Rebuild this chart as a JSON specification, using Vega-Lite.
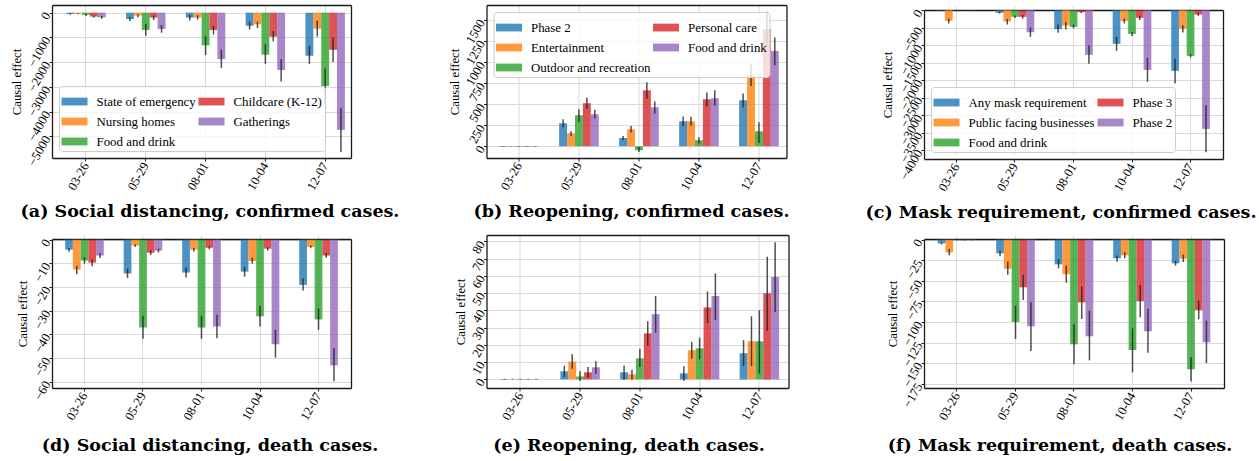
{
"$schema": "https://vega.github.io/schema/vega-lite/v6.json",
"autosize": {"type": "none"},
"padding": {"left": 52, "top": 5, "right": 1208, "bottom": 456},
"config": {
  "font": "Liberation Serif",
  "view": {"stroke": null},
  "axis": {"labelFont": "Liberation Serif", "labelFontSize": 12.7, "labelColor": "#000", "titleFont": "Liberation Serif", "titleFontSize": 12.7, "titleFontWeight": "normal", "titleColor": "#000", "gridColor": "#dadada", "gridWidth": 1, "domain": true, "domainColor": "#1a1a1a", "domainWidth": 1.3, "tickColor": "#222", "tickSize": 3, "labelPadding": 2, "labelOverlap": false, "labelFlush": false, "labelBound": false},
  "axisX": {"labelAngle": -60, "labelAlign": "right", "labelBaseline": "middle", "bandPosition": 0.5, "grid": true, "title": null},
  "axisY": {"labelAngle": -60, "labelAlign": "right", "labelBaseline": "middle", "format": "d", "titleAngle": -90, "titleAlign": "center", "titleBaseline": "middle"},
  "legend": {"labelFont": "Liberation Serif", "labelFontSize": 12.9, "labelColor": "#000", "symbolType": "M-1,-0.3H1V0.3H-1Z", "symbolSize": 676, "symbolStrokeWidth": 0, "symbolOpacity": 0.8, "columns": 2, "columnPadding": 2, "rowPadding": 0, "labelOffset": 9, "padding": 2.5, "fillColor": "rgba(255,255,255,0.8)", "strokeColor": "#cccccc", "cornerRadius": 3, "offset": 7, "title": null, "labelLimit": 300},
  "title": {"font": "DejaVu Serif", "fontSize": 17.5, "fontWeight": "bold", "color": "#000", "orient": "bottom", "frame": "group", "anchor": "middle", "offset": 11}
},
"datasets": {
  "a": [
    {"date": "03-26", "cat": "State of emergency", "v": -50, "lo": -20, "hi": -80},
    {"date": "03-26", "cat": "Nursing homes", "v": -40, "lo": -20, "hi": -60},
    {"date": "03-26", "cat": "Food and drink", "v": -90, "lo": -40, "hi": -130},
    {"date": "03-26", "cat": "Childcare (K-12)", "v": -160, "lo": -120, "hi": -200},
    {"date": "03-26", "cat": "Gatherings", "v": -190, "lo": -130, "hi": -250},
    {"date": "05-29", "cat": "State of emergency", "v": -257, "lo": -170, "hi": -340},
    {"date": "05-29", "cat": "Nursing homes", "v": -120, "lo": -60, "hi": -190},
    {"date": "05-29", "cat": "Food and drink", "v": -700, "lo": -460, "hi": -930},
    {"date": "05-29", "cat": "Childcare (K-12)", "v": -200, "lo": -120, "hi": -300},
    {"date": "05-29", "cat": "Gatherings", "v": -660, "lo": -500, "hi": -810},
    {"date": "08-01", "cat": "State of emergency", "v": -200, "lo": -90, "hi": -320},
    {"date": "08-01", "cat": "Nursing homes", "v": -200, "lo": -100, "hi": -280},
    {"date": "08-01", "cat": "Food and drink", "v": -1320, "lo": -970, "hi": -1720},
    {"date": "08-01", "cat": "Childcare (K-12)", "v": -700, "lo": -540, "hi": -880},
    {"date": "08-01", "cat": "Gatherings", "v": -1880, "lo": -1490, "hi": -2240},
    {"date": "10-04", "cat": "State of emergency", "v": -530, "lo": -360, "hi": -680},
    {"date": "10-04", "cat": "Nursing homes", "v": -470, "lo": -360, "hi": -620},
    {"date": "10-04", "cat": "Food and drink", "v": -1700, "lo": -1280, "hi": -2070},
    {"date": "10-04", "cat": "Childcare (K-12)", "v": -970, "lo": -740, "hi": -1160},
    {"date": "10-04", "cat": "Gatherings", "v": -2320, "lo": -1880, "hi": -2780},
    {"date": "12-07", "cat": "State of emergency", "v": -1740, "lo": -1350, "hi": -2070},
    {"date": "12-07", "cat": "Nursing homes", "v": -650, "lo": -320, "hi": -970},
    {"date": "12-07", "cat": "Food and drink", "v": -2970, "lo": -2260, "hi": -3680},
    {"date": "12-07", "cat": "Childcare (K-12)", "v": -1500, "lo": -990, "hi": -2000},
    {"date": "12-07", "cat": "Gatherings", "v": -4740, "lo": -3850, "hi": -5640}
  ],
  "b": [
    {"date": "03-26", "cat": "Phase 2", "v": -5, "lo": -2, "hi": -8},
    {"date": "03-26", "cat": "Entertainment", "v": -4, "lo": -1, "hi": -7},
    {"date": "03-26", "cat": "Outdoor and recreation", "v": -5, "lo": -2, "hi": -8},
    {"date": "03-26", "cat": "Personal care", "v": -5, "lo": -2, "hi": -8},
    {"date": "03-26", "cat": "Food and drink", "v": -4, "lo": -1, "hi": -7},
    {"date": "05-29", "cat": "Phase 2", "v": 274, "lo": 226, "hi": 321},
    {"date": "05-29", "cat": "Entertainment", "v": 155, "lo": 123, "hi": 178},
    {"date": "05-29", "cat": "Outdoor and recreation", "v": 369, "lo": 290, "hi": 440},
    {"date": "05-29", "cat": "Personal care", "v": 512, "lo": 444, "hi": 579},
    {"date": "05-29", "cat": "Food and drink", "v": 381, "lo": 329, "hi": 433},
    {"date": "08-01", "cat": "Phase 2", "v": 99, "lo": 71, "hi": 123},
    {"date": "08-01", "cat": "Entertainment", "v": 202, "lo": 163, "hi": 242},
    {"date": "08-01", "cat": "Outdoor and recreation", "v": -48, "lo": -8, "hi": -67},
    {"date": "08-01", "cat": "Personal care", "v": 667, "lo": 563, "hi": 762},
    {"date": "08-01", "cat": "Food and drink", "v": 464, "lo": 389, "hi": 536},
    {"date": "10-04", "cat": "Phase 2", "v": 298, "lo": 242, "hi": 353},
    {"date": "10-04", "cat": "Entertainment", "v": 298, "lo": 245, "hi": 350},
    {"date": "10-04", "cat": "Outdoor and recreation", "v": 71, "lo": 32, "hi": 107},
    {"date": "10-04", "cat": "Personal care", "v": 560, "lo": 472, "hi": 639},
    {"date": "10-04", "cat": "Food and drink", "v": 571, "lo": 484, "hi": 667},
    {"date": "12-07", "cat": "Phase 2", "v": 548, "lo": 460, "hi": 627},
    {"date": "12-07", "cat": "Entertainment", "v": 845, "lo": 718, "hi": 976},
    {"date": "12-07", "cat": "Outdoor and recreation", "v": 179, "lo": 40, "hi": 286},
    {"date": "12-07", "cat": "Personal care", "v": 1393, "lo": 1186, "hi": 1600},
    {"date": "12-07", "cat": "Food and drink", "v": 1131, "lo": 964, "hi": 1294}
  ],
  "c": [
    {"date": "03-26", "cat": "Any mask requirement", "v": -10, "lo": -5, "hi": -15},
    {"date": "03-26", "cat": "Public facing businesses", "v": -305, "lo": -240, "hi": -380},
    {"date": "03-26", "cat": "Food and drink", "v": -5, "lo": -2, "hi": -8},
    {"date": "03-26", "cat": "Phase 3", "v": -5, "lo": -2, "hi": -8},
    {"date": "03-26", "cat": "Phase 2", "v": -5, "lo": -2, "hi": -8},
    {"date": "05-29", "cat": "Any mask requirement", "v": -76, "lo": -50, "hi": -100},
    {"date": "05-29", "cat": "Public facing businesses", "v": -324, "lo": -250, "hi": -410},
    {"date": "05-29", "cat": "Food and drink", "v": -190, "lo": -150, "hi": -220},
    {"date": "05-29", "cat": "Phase 3", "v": -190, "lo": -140, "hi": -240},
    {"date": "05-29", "cat": "Phase 2", "v": -629, "lo": -495, "hi": -762},
    {"date": "08-01", "cat": "Any mask requirement", "v": -543, "lo": -410, "hi": -648},
    {"date": "08-01", "cat": "Public facing businesses", "v": -438, "lo": -333, "hi": -552},
    {"date": "08-01", "cat": "Food and drink", "v": -476, "lo": -410, "hi": -514},
    {"date": "08-01", "cat": "Phase 3", "v": -57, "lo": -30, "hi": -80},
    {"date": "08-01", "cat": "Phase 2", "v": -1276, "lo": -1000, "hi": -1533},
    {"date": "10-04", "cat": "Any mask requirement", "v": -962, "lo": -762, "hi": -1162},
    {"date": "10-04", "cat": "Public facing businesses", "v": -314, "lo": -240, "hi": -380},
    {"date": "10-04", "cat": "Food and drink", "v": -676, "lo": -620, "hi": -740},
    {"date": "10-04", "cat": "Phase 3", "v": -219, "lo": -160, "hi": -280},
    {"date": "10-04", "cat": "Phase 2", "v": -1705, "lo": -1362, "hi": -2048},
    {"date": "12-07", "cat": "Any mask requirement", "v": -1733, "lo": -1390, "hi": -2095},
    {"date": "12-07", "cat": "Public facing businesses", "v": -533, "lo": -430, "hi": -640},
    {"date": "12-07", "cat": "Food and drink", "v": -1305, "lo": -1250, "hi": -1350},
    {"date": "12-07", "cat": "Phase 3", "v": -124, "lo": -80, "hi": -160},
    {"date": "12-07", "cat": "Phase 2", "v": -3390, "lo": -2714, "hi": -4057}
  ],
  "d": [
    {"date": "03-26", "cat": "State of emergency", "v": -4.2, "lo": -3.5, "hi": -5.1},
    {"date": "03-26", "cat": "Nursing homes", "v": -12.6, "lo": -11.1, "hi": -14.6},
    {"date": "03-26", "cat": "Food and drink", "v": -8.8, "lo": -7.4, "hi": -10.1},
    {"date": "03-26", "cat": "Childcare (K-12)", "v": -9.7, "lo": -8.3, "hi": -11.2},
    {"date": "03-26", "cat": "Gatherings", "v": -6.7, "lo": -5.6, "hi": -7.7},
    {"date": "05-29", "cat": "State of emergency", "v": -14.3, "lo": -12.2, "hi": -16.2},
    {"date": "05-29", "cat": "Nursing homes", "v": -2.5, "lo": -2, "hi": -3},
    {"date": "05-29", "cat": "Food and drink", "v": -37.1, "lo": -32.2, "hi": -41.9},
    {"date": "05-29", "cat": "Childcare (K-12)", "v": -5.5, "lo": -4.5, "hi": -6.5},
    {"date": "05-29", "cat": "Gatherings", "v": -4.6, "lo": -3.8, "hi": -5.4},
    {"date": "08-01", "cat": "State of emergency", "v": -13.9, "lo": -11.8, "hi": -16},
    {"date": "08-01", "cat": "Nursing homes", "v": -4.2, "lo": -3.5, "hi": -5},
    {"date": "08-01", "cat": "Food and drink", "v": -37.1, "lo": -32.2, "hi": -41.9},
    {"date": "08-01", "cat": "Childcare (K-12)", "v": -3.4, "lo": -2.8, "hi": -4},
    {"date": "08-01", "cat": "Gatherings", "v": -36.7, "lo": -31.7, "hi": -41.7},
    {"date": "10-04", "cat": "State of emergency", "v": -13.5, "lo": -11.5, "hi": -15.6},
    {"date": "10-04", "cat": "Nursing homes", "v": -9, "lo": -7.6, "hi": -10.1},
    {"date": "10-04", "cat": "Food and drink", "v": -32.4, "lo": -28, "hi": -36.7},
    {"date": "10-04", "cat": "Childcare (K-12)", "v": -3.8, "lo": -3.2, "hi": -4.6},
    {"date": "10-04", "cat": "Gatherings", "v": -44.2, "lo": -38.1, "hi": -49.9},
    {"date": "12-07", "cat": "State of emergency", "v": -19.1, "lo": -16.3, "hi": -21.5},
    {"date": "12-07", "cat": "Nursing homes", "v": -3.1, "lo": -2.4, "hi": -3.4},
    {"date": "12-07", "cat": "Food and drink", "v": -33.7, "lo": -29.1, "hi": -38.1},
    {"date": "12-07", "cat": "Childcare (K-12)", "v": -6.7, "lo": -5.6, "hi": -7.6},
    {"date": "12-07", "cat": "Gatherings", "v": -53.1, "lo": -45.8, "hi": -59.8}
  ],
  "e": [
    {"date": "03-26", "cat": "Phase 2", "v": 0.2, "lo": 0, "hi": 0.4},
    {"date": "03-26", "cat": "Entertainment", "v": 0.2, "lo": 0, "hi": 0.4},
    {"date": "03-26", "cat": "Outdoor and recreation", "v": 0.2, "lo": 0, "hi": 0.4},
    {"date": "03-26", "cat": "Personal care", "v": 0.2, "lo": 0, "hi": 0.4},
    {"date": "03-26", "cat": "Food and drink", "v": 0.2, "lo": 0, "hi": 0.4},
    {"date": "05-29", "cat": "Phase 2", "v": 4.7, "lo": 1.4, "hi": 7.9},
    {"date": "05-29", "cat": "Entertainment", "v": 10.3, "lo": 6.2, "hi": 14.5},
    {"date": "05-29", "cat": "Outdoor and recreation", "v": 1.7, "lo": -1, "hi": 4.7},
    {"date": "05-29", "cat": "Personal care", "v": 4.1, "lo": 1, "hi": 7.2},
    {"date": "05-29", "cat": "Food and drink", "v": 7.0, "lo": 3.3, "hi": 10.5},
    {"date": "08-01", "cat": "Phase 2", "v": 4.1, "lo": -0.2, "hi": 8.1},
    {"date": "08-01", "cat": "Entertainment", "v": 2.9, "lo": -0.2, "hi": 5.6},
    {"date": "08-01", "cat": "Outdoor and recreation", "v": 12.2, "lo": 7.2, "hi": 17.8},
    {"date": "08-01", "cat": "Personal care", "v": 26.7, "lo": 19.4, "hi": 33.7},
    {"date": "08-01", "cat": "Food and drink", "v": 37.8, "lo": 27.1, "hi": 48.4},
    {"date": "10-04", "cat": "Phase 2", "v": 3.5, "lo": -1, "hi": 7.6},
    {"date": "10-04", "cat": "Entertainment", "v": 16.9, "lo": 12, "hi": 21.7},
    {"date": "10-04", "cat": "Outdoor and recreation", "v": 18, "lo": 11.6, "hi": 24.2},
    {"date": "10-04", "cat": "Personal care", "v": 41.7, "lo": 32.6, "hi": 51},
    {"date": "10-04", "cat": "Food and drink", "v": 48.3, "lo": 34.5, "hi": 61.4},
    {"date": "12-07", "cat": "Phase 2", "v": 15.1, "lo": 7.8, "hi": 22.7},
    {"date": "12-07", "cat": "Entertainment", "v": 22.1, "lo": 7.8, "hi": 36.6},
    {"date": "12-07", "cat": "Outdoor and recreation", "v": 22.1, "lo": 3.3, "hi": 40.1},
    {"date": "12-07", "cat": "Personal care", "v": 50, "lo": 28.1, "hi": 71.1},
    {"date": "12-07", "cat": "Food and drink", "v": 59.3, "lo": 39.1, "hi": 79.5}
  ],
  "f": [
    {"date": "03-26", "cat": "Any mask requirement", "v": -4.5, "lo": -3.2, "hi": -5.7},
    {"date": "03-26", "cat": "Public facing businesses", "v": -15.4, "lo": -11.3, "hi": -19},
    {"date": "03-26", "cat": "Food and drink", "v": -0.3, "lo": 0, "hi": -0.8},
    {"date": "03-26", "cat": "Phase 3", "v": -0.5, "lo": 0, "hi": -1},
    {"date": "03-26", "cat": "Phase 2", "v": -0.3, "lo": 0, "hi": -0.8},
    {"date": "05-29", "cat": "Any mask requirement", "v": -16.6, "lo": -13.4, "hi": -20.3},
    {"date": "05-29", "cat": "Public facing businesses", "v": -35.3, "lo": -26.7, "hi": -42.5},
    {"date": "05-29", "cat": "Food and drink", "v": -100, "lo": -80.2, "hi": -120.7},
    {"date": "05-29", "cat": "Phase 3", "v": -57.9, "lo": -42.5, "hi": -73.3},
    {"date": "05-29", "cat": "Phase 2", "v": -105.3, "lo": -76.2, "hi": -135.3},
    {"date": "08-01", "cat": "Any mask requirement", "v": -30, "lo": -23.5, "hi": -34.8},
    {"date": "08-01", "cat": "Public facing businesses", "v": -42.1, "lo": -31.6, "hi": -52.3},
    {"date": "08-01", "cat": "Food and drink", "v": -127.2, "lo": -102.5, "hi": -151.5},
    {"date": "08-01", "cat": "Phase 3", "v": -76.2, "lo": -56.7, "hi": -96.4},
    {"date": "08-01", "cat": "Phase 2", "v": -117.5, "lo": -86.3, "hi": -146.7},
    {"date": "10-04", "cat": "Any mask requirement", "v": -22.7, "lo": -19.4, "hi": -26.7},
    {"date": "10-04", "cat": "Public facing businesses", "v": -19, "lo": -15.4, "hi": -22.7},
    {"date": "10-04", "cat": "Food and drink", "v": -134.1, "lo": -107.8, "hi": -161.3},
    {"date": "10-04", "cat": "Phase 3", "v": -74.6, "lo": -55.1, "hi": -94.4},
    {"date": "10-04", "cat": "Phase 2", "v": -111.4, "lo": -83.9, "hi": -137.4},
    {"date": "12-07", "cat": "Any mask requirement", "v": -28.8, "lo": -25.5, "hi": -31.6},
    {"date": "12-07", "cat": "Public facing businesses", "v": -23.1, "lo": -18.2, "hi": -27.1},
    {"date": "12-07", "cat": "Food and drink", "v": -157.6, "lo": -143, "hi": -172.2},
    {"date": "12-07", "cat": "Phase 3", "v": -85.9, "lo": -74.1, "hi": -96.8},
    {"date": "12-07", "cat": "Phase 2", "v": -124.8, "lo": -98.5, "hi": -149.9}
  ]
},
"resolve": {"scale": {"color": "independent", "xOffset": "independent", "x": "independent", "y": "independent"}, "legend": {"color": "independent"}},
"bounds": "flush",
"columns": 3,
"spacing": {"row": 76, "column": 135.5},
"concat": [
 {
  "width": 299, "height": 153,
  "data": {"name": "a"},
  "title": {"text": "(a) Social distancing, confirmed cases.", "dx": 8.5},
  "resolve": {"axis": {"x": "independent", "y": "independent"}},
  "encoding": {
    "xOffset": {"field": "cat", "type": "nominal", "sort": ["State of emergency", "Nursing homes", "Food and drink", "Childcare (K-12)", "Gatherings"], "scale": {"paddingInner": 0, "paddingOuter": 0}}
  },
  "layer": [
    {"mark": {"type": "bar", "opacity": 0.8, "clip": true},
     "encoding": {
       "x": {"field": "date", "type": "nominal", "scale": {"paddingInner": 0.34, "paddingOuter": 0.17, "align": 0.7}, "axis": {"orient": "bottom"}},
       "y": {"field": "v", "type": "quantitative", "title": "Causal effect", "scale": {"domain": [-5880, 310], "nice": false, "zero": false}, "axis": {"values": [0, -1000, -2000, -3000, -4000, -5000], "titleX": -35.5}},
       "color": {"field": "cat", "type": "nominal", "scale": {"domain": ["State of emergency", "Nursing homes", "Food and drink", "Childcare (K-12)", "Gatherings"], "range": ["#1f77b4", "#ff7f0e", "#2ca02c", "#d62728", "#9467bd"]}, "legend": {"orient": "bottom-left", "labelFont": "Liberation Serif"}}
     }},
    {"mark": {"type": "rule", "color": "#222", "opacity": 0.8, "strokeWidth": 1.5, "clip": true},
     "encoding": {
       "x": {"field": "date", "type": "nominal", "axis": {"orient": "top", "labels": false, "ticks": false, "grid": false, "title": null}},
       "y": {"field": "lo", "type": "quantitative", "axis": {"orient": "right", "labels": false, "ticks": false, "grid": false, "title": null}},
       "y2": {"field": "hi"}}}
  ]
 },
 {
  "width": 300, "height": 153,
  "data": {"name": "b"},
  "title": {"text": "(b) Reopening, confirmed cases.", "dx": -5},
  "resolve": {"axis": {"x": "independent", "y": "independent"}},
  "encoding": {
    "xOffset": {"field": "cat", "type": "nominal", "sort": ["Phase 2", "Entertainment", "Outdoor and recreation", "Personal care", "Food and drink"], "scale": {"paddingInner": 0, "paddingOuter": 0}}
  },
  "layer": [
    {"mark": {"type": "bar", "opacity": 0.8, "clip": true},
     "encoding": {
       "x": {"field": "date", "type": "nominal", "scale": {"paddingInner": 0.34, "paddingOuter": 0.17, "align": 0.62}, "axis": {"orient": "bottom"}},
       "y": {"field": "v", "type": "quantitative", "title": "Causal effect", "scale": {"domain": [-139, 1679], "nice": false, "zero": false}, "axis": {"values": [0, 250, 500, 750, 1000, 1250, 1500], "titleX": -32}},
       "color": {"field": "cat", "type": "nominal", "scale": {"domain": ["Phase 2", "Entertainment", "Outdoor and recreation", "Personal care", "Food and drink"], "range": ["#1f77b4", "#ff7f0e", "#2ca02c", "#d62728", "#9467bd"]}, "legend": {"orient": "top-left", "labelFont": "Liberation Serif"}}
     }},
    {"mark": {"type": "rule", "color": "#222", "opacity": 0.8, "strokeWidth": 1.5, "clip": true},
     "encoding": {
       "x": {"field": "date", "type": "nominal", "axis": {"orient": "top", "labels": false, "ticks": false, "grid": false, "title": null}},
       "y": {"field": "lo", "type": "quantitative", "axis": {"orient": "right", "labels": false, "ticks": false, "grid": false, "title": null}},
       "y2": {"field": "hi"}}}
  ]
 },
 {
  "width": 299, "height": 154,
  "data": {"name": "c"},
  "title": {"text": "(c) Mask requirement, confirmed cases.", "dx": -12.5},
  "resolve": {"axis": {"x": "independent", "y": "independent"}},
  "encoding": {
    "xOffset": {"field": "cat", "type": "nominal", "sort": ["Any mask requirement", "Public facing businesses", "Food and drink", "Phase 3", "Phase 2"], "scale": {"paddingInner": 0, "paddingOuter": 0}}
  },
  "layer": [
    {"mark": {"type": "bar", "opacity": 0.8, "clip": true},
     "encoding": {
       "x": {"field": "date", "type": "nominal", "scale": {"paddingInner": 0.34, "paddingOuter": 0.225, "align": 0.5}, "axis": {"orient": "bottom"}},
       "y": {"field": "v", "type": "quantitative", "title": "Causal effect", "scale": {"domain": [-4250, 5], "range": [154, 5], "nice": false, "zero": false}, "axis": {"values": [0, -500, -1000, -1500, -2000, -2500, -3000, -3500, -4000], "titleX": -37}},
       "color": {"field": "cat", "type": "nominal", "scale": {"domain": ["Any mask requirement", "Public facing businesses", "Food and drink", "Phase 3", "Phase 2"], "range": ["#1f77b4", "#ff7f0e", "#2ca02c", "#d62728", "#9467bd"]}, "legend": {"orient": "bottom-left", "labelFont": "Liberation Serif"}}
     }},
    {"mark": {"type": "rule", "color": "#222", "opacity": 0.8, "strokeWidth": 1.5, "clip": true},
     "encoding": {
       "x": {"field": "date", "type": "nominal", "axis": {"orient": "top", "labels": false, "ticks": false, "grid": false, "title": null, "offset": -5}},
       "y": {"field": "lo", "type": "quantitative", "axis": {"orient": "right", "labels": false, "ticks": false, "grid": false, "title": null}},
       "y2": {"field": "hi"}}}
  ]
 },
 {
  "width": 299, "height": 153,
  "data": {"name": "d"},
  "title": {"text": "(d) Social distancing, death cases.", "dx": 8.5, "offset": 15},
  "resolve": {"axis": {"x": "independent", "y": "independent"}},
  "encoding": {
    "xOffset": {"field": "cat", "type": "nominal", "sort": ["State of emergency", "Nursing homes", "Food and drink", "Childcare (K-12)", "Gatherings"], "scale": {"paddingInner": 0, "paddingOuter": 0}}
  },
  "layer": [
    {"mark": {"type": "bar", "opacity": 0.8, "clip": true},
     "encoding": {
       "x": {"field": "date", "type": "nominal", "scale": {"paddingInner": 0.34, "paddingOuter": 0.225, "align": 0.5}, "axis": {"orient": "bottom"}},
       "y": {"field": "v", "type": "quantitative", "title": "Causal effect", "scale": {"domain": [-62.7, 0.3], "range": [153, 4], "nice": false, "zero": false}, "axis": {"values": [0, -10, -20, -30, -40, -50, -60], "titleX": -30}},
       "color": {"field": "cat", "type": "nominal", "scale": {"domain": ["State of emergency", "Nursing homes", "Food and drink", "Childcare (K-12)", "Gatherings"], "range": ["#1f77b4", "#ff7f0e", "#2ca02c", "#d62728", "#9467bd"]}, "legend": null}
     }},
    {"mark": {"type": "rule", "color": "#222", "opacity": 0.8, "strokeWidth": 1.5, "clip": true},
     "encoding": {
       "x": {"field": "date", "type": "nominal", "axis": {"orient": "top", "labels": false, "ticks": false, "grid": false, "title": null, "offset": -4}},
       "y": {"field": "lo", "type": "quantitative", "axis": {"orient": "right", "labels": false, "ticks": false, "grid": false, "title": null}},
       "y2": {"field": "hi"}}}
  ]
 },
 {
  "width": 302, "height": 153,
  "data": {"name": "e"},
  "title": {"text": "(e) Reopening, death cases.", "dx": -8.5, "offset": 15},
  "resolve": {"axis": {"x": "independent", "y": "independent"}},
  "encoding": {
    "xOffset": {"field": "cat", "type": "nominal", "sort": ["Phase 2", "Entertainment", "Outdoor and recreation", "Personal care", "Food and drink"], "scale": {"paddingInner": 0, "paddingOuter": 0}}
  },
  "layer": [
    {"mark": {"type": "bar", "opacity": 0.8, "clip": true},
     "encoding": {
       "x": {"field": "date", "type": "nominal", "scale": {"paddingInner": 0.34, "paddingOuter": 0.197, "align": 0.6}, "axis": {"orient": "bottom"}},
       "y": {"field": "v", "type": "quantitative", "title": "Causal effect", "scale": {"domain": [-5, 83.7], "nice": false, "zero": false}, "axis": {"values": [0, 10, 20, 30, 40, 50, 60, 70, 80], "titleX": -26}},
       "color": {"field": "cat", "type": "nominal", "scale": {"domain": ["Phase 2", "Entertainment", "Outdoor and recreation", "Personal care", "Food and drink"], "range": ["#1f77b4", "#ff7f0e", "#2ca02c", "#d62728", "#9467bd"]}, "legend": null}
     }},
    {"mark": {"type": "rule", "color": "#222", "opacity": 0.8, "strokeWidth": 1.5, "clip": true},
     "encoding": {
       "x": {"field": "date", "type": "nominal", "axis": {"orient": "top", "labels": false, "ticks": false, "grid": false, "title": null}},
       "y": {"field": "lo", "type": "quantitative", "axis": {"orient": "right", "labels": false, "ticks": false, "grid": false, "title": null}},
       "y2": {"field": "hi"}}}
  ]
 },
 {
  "width": 300, "height": 153,
  "data": {"name": "f"},
  "title": {"text": "(f) Mask requirement, death cases.", "dx": -14, "offset": 15},
  "resolve": {"axis": {"x": "independent", "y": "independent"}},
  "encoding": {
    "xOffset": {"field": "cat", "type": "nominal", "sort": ["Any mask requirement", "Public facing businesses", "Food and drink", "Phase 3", "Phase 2"], "scale": {"paddingInner": 0, "paddingOuter": 0}}
  },
  "layer": [
    {"mark": {"type": "bar", "opacity": 0.8, "clip": true},
     "encoding": {
       "x": {"field": "date", "type": "nominal", "scale": {"paddingInner": 0.34, "paddingOuter": 0.234, "align": 0.5}, "axis": {"orient": "bottom"}},
       "y": {"field": "v", "type": "quantitative", "title": "Causal effect", "scale": {"domain": [-180.3, 0.8], "range": [153, 4], "nice": false, "zero": false}, "axis": {"values": [0, -25, -50, -75, -100, -125, -150, -175], "titleX": -32}},
       "color": {"field": "cat", "type": "nominal", "scale": {"domain": ["Any mask requirement", "Public facing businesses", "Food and drink", "Phase 3", "Phase 2"], "range": ["#1f77b4", "#ff7f0e", "#2ca02c", "#d62728", "#9467bd"]}, "legend": null}
     }},
    {"mark": {"type": "rule", "color": "#222", "opacity": 0.8, "strokeWidth": 1.5, "clip": true},
     "encoding": {
       "x": {"field": "date", "type": "nominal", "axis": {"orient": "top", "labels": false, "ticks": false, "grid": false, "title": null, "offset": -4}},
       "y": {"field": "lo", "type": "quantitative", "axis": {"orient": "right", "labels": false, "ticks": false, "grid": false, "title": null}},
       "y2": {"field": "hi"}}}
  ]
 }
]
}
